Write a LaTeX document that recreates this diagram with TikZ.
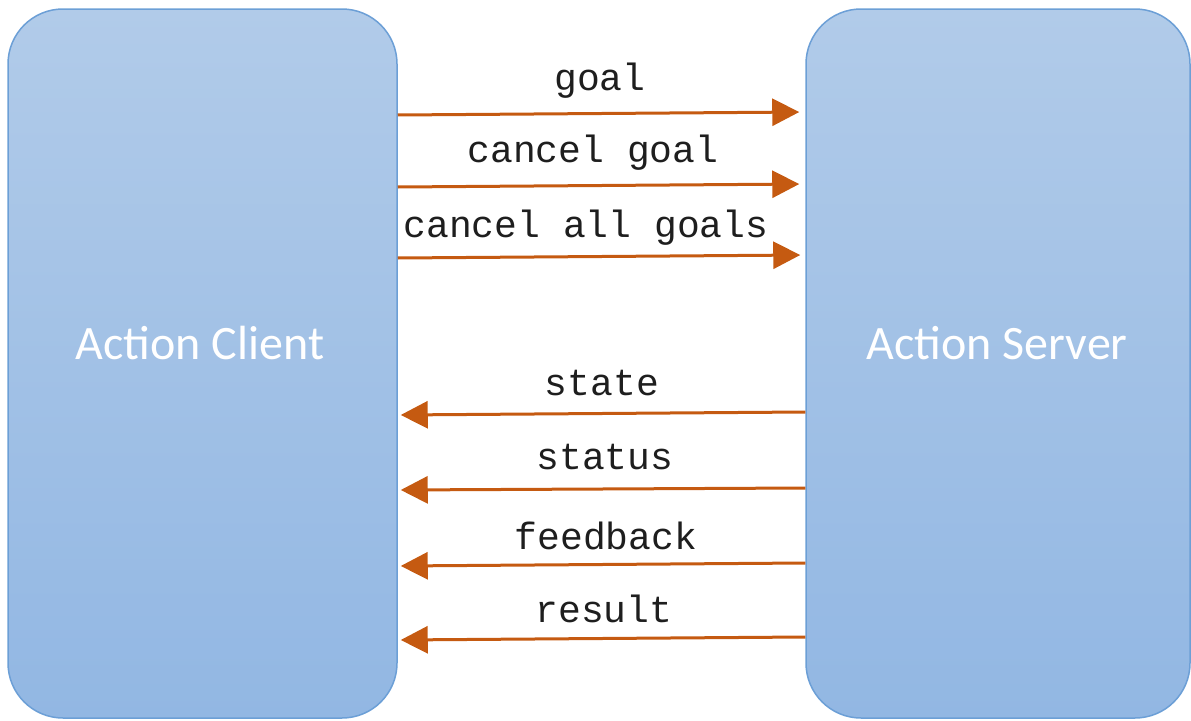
\documentclass[tikz,border=0pt]{standalone}
\usepackage{fontspec}
\setmainfont{Carlito}
\newfontfamily\monofont{Liberation Mono}
\usetikzlibrary{arrows.meta}
\definecolor{boxtop}{HTML}{B1CBE9}
\definecolor{boxbot}{HTML}{92B7E3}
\definecolor{boxline}{HTML}{6C9FD6}
\definecolor{arrcol}{HTML}{C55A11}
\definecolor{txt}{HTML}{1E1E1E}
\tikzset{
  actor/.style={rectangle, rounded corners=55pt, draw=boxline, line width=1.5pt,
    top color=boxtop, bottom color=boxbot, minimum height=709pt, inner sep=0pt},
  actorlabel/.style={text=white, font=\fontsize{48}{48}\selectfont, anchor=base, inner sep=0pt},
  msg/.style={draw=arrcol, line width=3pt, -{Triangle[length=27pt,width=27pt]}},
  msglabel/.style={text=txt, font=\monofont\fontsize{38}{38}\selectfont, anchor=base, inner sep=0pt},
}
\begin{document}
\begin{tikzpicture}[x=1pt,y=-1pt]
\useasboundingbox (0,0) rectangle (1191,720);
\node[actor, minimum width=389pt] (client) at (202.5,363.5) {};
\node[actor, minimum width=384pt] (server) at (998,363.5) {};
\node[actorlabel] (clientlabel) at (200,359) {Action Client};
\node[actorlabel] (serverlabel) at (997,359) {Action Server};

% outgoing
\draw[msg, shorten >=6pt] (client.east |- {(0,115)}) -- (server.west |- {(0,112)});
\draw[msg, shorten >=6pt] (client.east |- {(0,187)}) -- (server.west |- {(0,184)});
\draw[msg, shorten >=5pt] (client.east |- {(0,258)}) -- (server.west |- {(0,255)});
% incoming
\draw[msg, shorten >=3pt] (server.west |- {(0,412)}) -- (client.east |- {(0,415)});
\draw[msg, shorten >=3pt] (server.west |- {(0,488)}) -- (client.east |- {(0,490)});
\draw[msg, shorten >=3pt] (server.west |- {(0,563)}) -- (client.east |- {(0,566)});
\draw[msg, shorten >=3pt] (server.west |- {(0,637)}) -- (client.east |- {(0,640)});

\node[msglabel] (lgoal) at (600,90) {goal};
\node[msglabel] (lcancel) at (593,162) {cancel goal};
\node[msglabel] (lcancelall) at (586,237) {cancel all goals};
\node[msglabel] (lstate) at (602,395) {state};
\node[msglabel] (lstatus) at (605,469) {status};
\node[msglabel] (lfeedback) at (606,549) {feedback};
\node[msglabel] (lresult) at (604,622) {result};
\end{tikzpicture}
\end{document}
